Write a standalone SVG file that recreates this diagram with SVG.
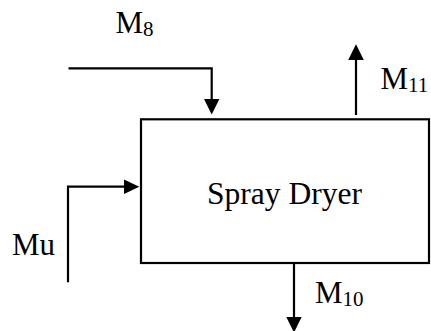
<svg xmlns="http://www.w3.org/2000/svg" width="431" height="331" viewBox="0 0 431 331">
<style>
.ln{fill:none;stroke:#000;stroke-width:2.2}
.ah{fill:#000;stroke:none}
.t{font-family:"Liberation Serif","Times New Roman",serif;fill:#000}
.big{font-size:31px}
.sub{font-size:21px}
</style>
<rect width="431" height="331" fill="#fff"/>
<g id="spray-dryer">
<rect class="ln" x="141" y="119.3" width="288" height="143.7"/>
<text class="t" x="284.5" y="203.5" font-size="31.5" text-anchor="middle">Spray Dryer</text>
</g>
<g id="connectors">
<polyline class="ln" points="68.5,68.3 211.7,68.3 211.7,100"/>
<polygon class="ah" points="204,99 219.4,99 211.7,114.5"/>
<line class="ln" x1="356" y1="115" x2="356" y2="59"/>
<polygon class="ah" points="348.2,60 363.8,60 356,44.3"/>
<polyline class="ln" points="68,282.3 68,186.7 125,186.7"/>
<polygon class="ah" points="124,179.5 124,194 139.3,186.7"/>
<line class="ln" x1="294" y1="263" x2="294" y2="318"/>
<polygon class="ah" points="286.3,317 301.7,317 294,332.5"/>
</g>
<g id="label-m8">
<text class="t big" x="115.5" y="33">M<tspan class="sub" dy="3">8</tspan></text>
</g>
<g id="label-m11">
<text class="t big" x="380.5" y="88.5">M<tspan class="sub" dy="3">11</tspan></text>
</g>
<g id="label-mu">
<text class="t big" x="12" y="254.5">Mu</text>
</g>
<g id="label-m10">
<text class="t big" x="315" y="303">M<tspan class="sub" dy="3">10</tspan></text>
</g>
</svg>
